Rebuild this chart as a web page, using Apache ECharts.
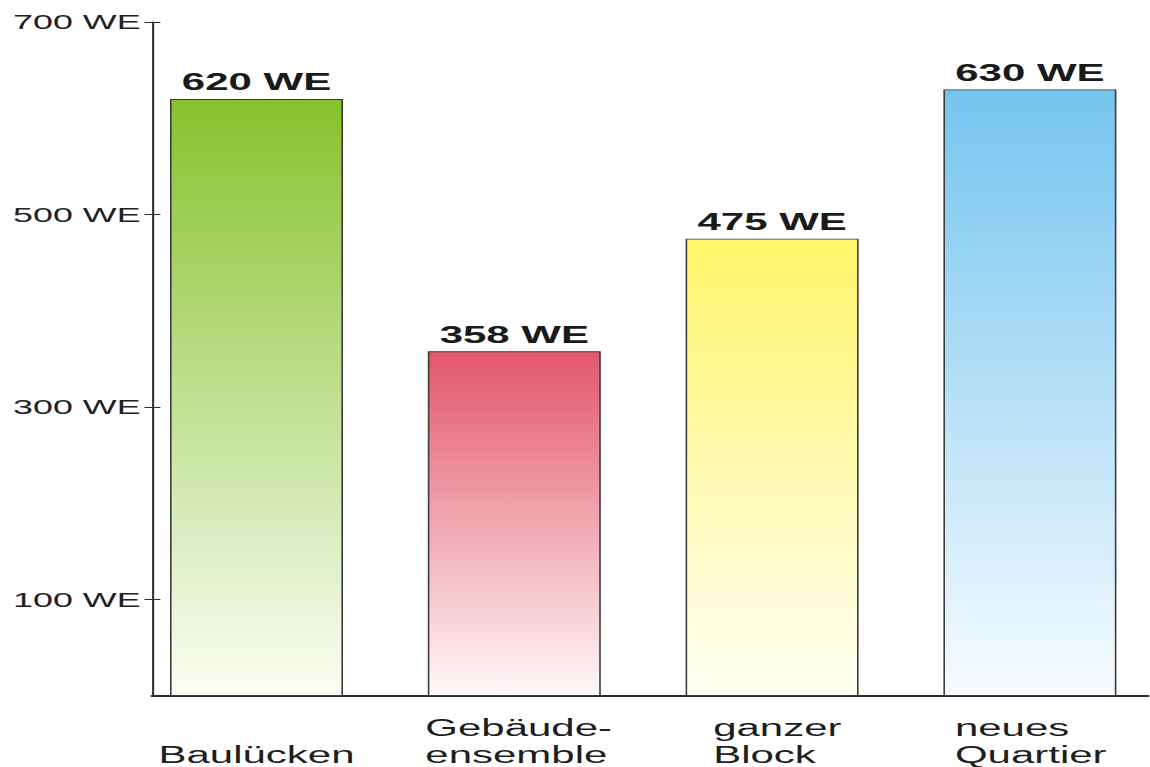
<!DOCTYPE html>
<html>
<head>
<meta charset="utf-8">
<script src="https://cdn.jsdelivr.net/npm/echarts@6/dist/echarts.min.js"></script>
<style>
  html, body { margin: 0; padding: 0; background: #ffffff; overflow: hidden; }
  #wrap { width: 1150px; height: 767px; overflow: hidden; position: relative; }
  #chart { position: absolute; left: 0; top: 0; transform-origin: 0 0; }
</style>
</head>
<body>
<div id="wrap"><div id="chart"></div></div>
<script>
// ---- data ----
const categories = ['Baulücken', 'Gebäude-\nensemble', 'ganzer\nBlock', 'neues\nQuartier'];
const values = [620, 358, 475, 630];
const unit = 'WE';
const yTickValues = [100, 300, 500, 700];
const topColors = ['#86c22c', '#e2566b', '#fff46a', '#74c4ee'];
const bottomColors = ['#fbfdf6', '#fff8f9', '#fffff4', '#f7fbff'];

// ---- layout (the source picture is stretched horizontally) ----
const SX = 1.75;
const W = 1180 / SX, H = 767;
const el = document.getElementById('chart');
el.style.width = W + 'px';
el.style.height = H + 'px';
el.style.transform = 'scaleX(' + SX + ')';

const FONT = 'Liberation Sans, Arial, Helvetica, sans-serif';
const gridTop = 22, gridBottom = 71;
const bandLeft = 127.6 / SX, bandWidth = 4 * 257.8 / SX;
const axisLeft = 152 / SX, axisRight = W - 1148 / SX;
const labelBoxW = [110, 101.7, 67.4, 85.7];

const chart = echarts.init(el, null, { renderer: 'svg', width: W, height: H });

const option = {
  animation: false,
  backgroundColor: '#ffffff',
  grid: [
    { left: bandLeft, width: bandWidth, top: gridTop, bottom: gridBottom, containLabel: false },
    { left: axisLeft, right: axisRight, top: gridTop, bottom: gridBottom, containLabel: false }
  ],
  xAxis: [
    {
      type: 'category', gridIndex: 0, data: categories,
      axisLine: { show: false }, axisTick: { show: false },
      axisLabel: {
        interval: 0, margin: 72, verticalAlign: 'bottom',
        formatter: (v, i) => '{c' + i + '|' + v + '}',
        rich: Object.fromEntries(labelBoxW.map((w, i) => ['c' + i, {
          width: w, align: i === 0 ? 'center' : 'left',
          fontFamily: FONT, fontSize: 24, lineHeight: 27, color: '#1e1e1e'
        }]))
      }
    },
    {
      type: 'value', gridIndex: 1, min: 0, max: 1,
      axisLine: { show: true, onZero: false, lineStyle: { color: '#2a2a2a', width: 1.8 } },
      axisTick: { show: false }, axisLabel: { show: false }, splitLine: { show: false }
    }
  ],
  yAxis: [
    {
      type: 'value', gridIndex: 0, min: 0, max: 700, show: false
    },
    {
      type: 'value', gridIndex: 1, min: 0, max: 700, position: 'left',
      axisLine: { show: true, lineStyle: { color: '#2a2a2a', width: 1.15 } },
      axisTick: { show: true, length: 4.2, customValues: yTickValues, lineStyle: { color: '#2a2a2a', width: 1 } },
      axisLabel: {
        customValues: yTickValues, margin: 6.5,
        formatter: v => v + ' ' + unit,
        fontFamily: FONT, fontSize: 20.5, color: '#222222'
      },
      splitLine: { show: false }
    },
    {
      type: 'value', gridIndex: 1, min: 0, max: 700, position: 'left', offset: 0,
      axisLine: { show: false },
      axisTick: { show: true, inside: true, length: 4.8, customValues: yTickValues, lineStyle: { color: '#2a2a2a', width: 1 } },
      axisLabel: { show: false },
      splitLine: { show: false }
    }
  ],
  series: [
    {
      type: 'bar', xAxisIndex: 0, yAxisIndex: 0,
      barWidth: 173 / SX,
      data: values.map((v, i) => ({
        value: v,
        itemStyle: {
          color: new echarts.graphic.LinearGradient(0, 0, 0, 1, [
            { offset: 0, color: topColors[i] },
            { offset: 1, color: bottomColors[i] }
          ]),
          borderColor: '#3a3a3a', borderWidth: 0.9
        }
      })),
      label: {
        show: true, position: 'top', distance: 5,
        formatter: p => p.value + ' ' + unit,
        fontFamily: FONT, fontWeight: 'bold', fontSize: 24, color: '#1a1a1a'
      }
    }
  ]
};
chart.setOption(option);
</script>
</body>
</html>
